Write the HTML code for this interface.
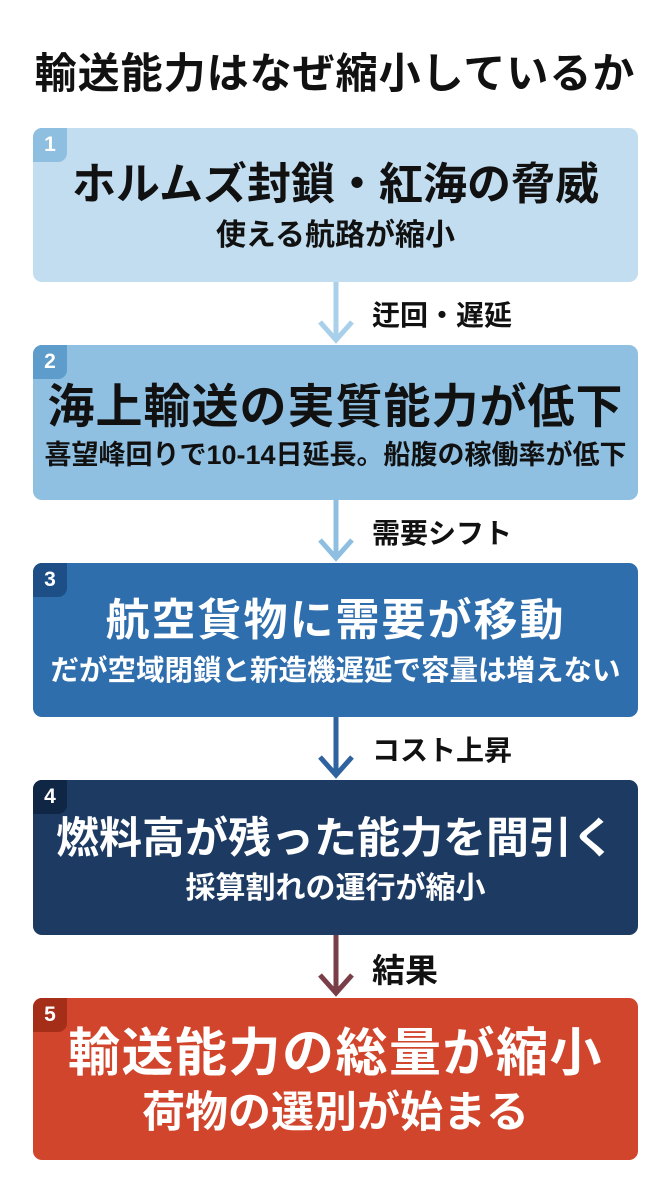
<!DOCTYPE html>
<html><head><meta charset="utf-8"><style>
body{margin:0;width:670px;height:1200px;background:#fff;position:relative;overflow:hidden;font-family:"Liberation Sans","Noto Sans CJK JP",sans-serif;font-weight:bold}
.h{position:absolute;left:0;width:670px;top:40px;text-align:center;font-size:42px;letter-spacing:1px;color:#111}
.b{position:absolute;left:33px;width:605px;border-radius:9px;display:flex;flex-direction:column;align-items:center;justify-content:center;text-align:center;white-space:nowrap}
.n{position:absolute;left:0;top:0;width:34px;height:34px;border-radius:9px 0 9px 0;font-size:21px;line-height:34px;text-align:center;color:#fff}
.t{line-height:1.15}
.lab{position:absolute;left:372px;font-size:28px;color:#111}
svg{position:absolute;left:0;top:0}
</style></head><body>
<div class="h">輸送能力はなぜ縮小しているか</div>

<div class="b" style="top:128px;height:154px;background:#c2ddef;color:#111">
<div class="n" style="background:#8fbfe0">1</div>
<div class="t" style="font-size:44px;letter-spacing:0px;margin-top:4px">ホルムズ封鎖・紅海の脅威</div>
<div class="t" style="font-size:30px;margin-top:8px">使える航路が縮小</div></div>

<div class="b" style="top:345px;height:155px;background:#8fc0e2;color:#111">
<div class="n" style="background:#5e9ccc">2</div>
<div class="t" style="font-size:47px;letter-spacing:1px;margin-top:6px">海上輸送の実質能力が低下</div>
<div class="t" style="font-size:27px;letter-spacing:0px;margin-top:6px">喜望峰回りで10-14日延長。船腹の稼働率が低下</div></div>

<div class="b" style="top:563px;height:154px;background:#2f6ead;color:#fff">
<div class="n" style="background:#1d4f86">3</div>
<div class="t" style="font-size:44px;letter-spacing:2px;margin-top:4px">航空貨物に需要が移動</div>
<div class="t" style="font-size:28.5px;margin-top:8px">だが空域閉鎖と新造機遅延で容量は増えない</div></div>

<div class="b" style="top:780px;height:155px;background:#1c3a62;color:#fff">
<div class="n" style="background:#0f2645">4</div>
<div class="t" style="font-size:43px;margin-top:6px">燃料高が残った能力を間引く</div>
<div class="t" style="font-size:30px;margin-top:8px">採算割れの運行が縮小</div></div>

<div class="b" style="top:998px;height:162px;background:#d0452b;color:#fff">
<div class="n" style="background:#a52e18">5</div>
<div class="t" style="font-size:52px;letter-spacing:1.5px;margin-top:6px">輸送能力の総量が縮小</div>
<div class="t" style="font-size:43px;margin-top:4px">荷物の選別が始まる</div></div>

<svg width="670" height="1200">
<g fill="none" stroke-width="5" stroke-linejoin="miter">
<path d="M336 282V340M320 322L336 340L352 322" stroke="#a9d0ea"/>
<path d="M336 500V558M320 540L336 558L352 540" stroke="#8fbfe0"/>
<path d="M336 717V775M320 757L336 775L352 757" stroke="#2e63a0"/>
<path d="M336 935V993M320 975L336 993L352 975" stroke="#7a3e48"/>
</g></svg>
<div class="lab" style="top:294px">迂回・遅延</div>
<div class="lab" style="top:512px">需要シフト</div>
<div class="lab" style="top:729px">コスト上昇</div>
<div class="lab" style="top:944px;font-size:33px">結果</div>
</body></html>
